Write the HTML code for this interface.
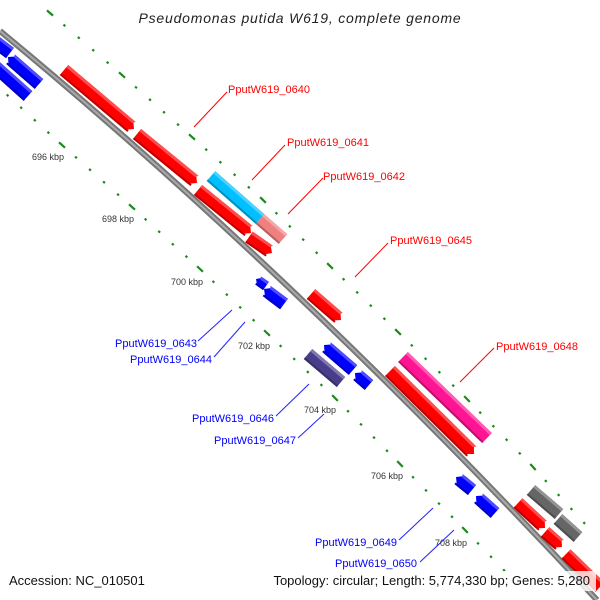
<!DOCTYPE html>
<html><head><meta charset="utf-8"><style>
html,body{margin:0;padding:0;background:#fff;width:600px;height:600px;overflow:hidden}
svg{display:block;overflow:hidden}
text{font-family:"Liberation Sans",sans-serif}
</style></head><body>
<svg id="s" width="600" height="600" viewBox="0 0 600 600" overflow="hidden" xmlns="http://www.w3.org/2000/svg">
<rect width="600" height="600" fill="#fff"/>
<g id="dots"></g>
<path d="M0,31 Q294,273.5 597,600" fill="none" stroke="#777" stroke-width="6"/>
<path d="M0,31 Q294,273.5 597,600" fill="none" stroke="#aaa" stroke-width="2"/>
<g id="genes"></g>
<g stroke-width="1" fill="none">
<line x1="194" y1="127" x2="227" y2="92" stroke="#f00"/>
<line x1="252" y1="180" x2="285" y2="145" stroke="#f00"/>
<line x1="288" y1="214" x2="323" y2="178" stroke="#f00"/>
<line x1="355" y1="277" x2="388" y2="243" stroke="#f00"/>
<line x1="460" y1="382" x2="494" y2="348" stroke="#f00"/>
<line x1="198" y1="341" x2="232" y2="310" stroke="#22f"/>
<line x1="214" y1="357" x2="245" y2="322" stroke="#22f"/>
<line x1="276" y1="416" x2="309" y2="384" stroke="#22f"/>
<line x1="298" y1="438" x2="324" y2="414" stroke="#22f"/>
<line x1="399" y1="540" x2="433" y2="508" stroke="#22f"/>
<line x1="420" y1="562" x2="454" y2="530" stroke="#22f"/>
</g>
<g font-size="11" fill="#f00">
<text x="228" y="93">PputW619_0640</text>
<text x="287" y="146">PputW619_0641</text>
<text x="323" y="180">PputW619_0642</text>
<text x="390" y="244">PputW619_0645</text>
<text x="496" y="350">PputW619_0648</text>
</g>
<g font-size="11" fill="#00f" text-anchor="end">
<text x="197" y="347">PputW619_0643</text>
<text x="212" y="363">PputW619_0644</text>
<text x="274" y="422">PputW619_0646</text>
<text x="296" y="444">PputW619_0647</text>
<text x="397" y="546">PputW619_0649</text>
<text x="417" y="567">PputW619_0650</text>
</g>
<g font-size="9" fill="#333">
<text x="32" y="160">696 kbp</text>
<text x="102" y="222">698 kbp</text>
<text x="171" y="285">700 kbp</text>
<text x="238" y="349">702 kbp</text>
<text x="304" y="413">704 kbp</text>
<text x="371" y="479">706 kbp</text>
<text x="435" y="546">708 kbp</text>
</g>
<text x="300" y="23" font-size="14" font-style="italic" text-anchor="middle" fill="#222" letter-spacing="0.8">Pseudomonas putida W619, complete genome</text>
<rect x="4" y="571" width="152" height="20" fill="#fff" opacity="0.8"/>
<rect x="256" y="571" width="340" height="20" fill="#fff" opacity="0.8"/>
<text x="9" y="585" font-size="13" fill="#111">Accession: NC_010501</text>
<text x="590" y="585" font-size="13" fill="#111" text-anchor="end">Topology: circular; Length: 5,774,330 bp; Genes: 5,280</text>
</svg>
<script>
var NS="http://www.w3.org/2000/svg";
function el(p,t,a){var e=document.createElementNS(NS,t);for(var k in a)e.setAttribute(k,a[k]);p.appendChild(e);return e;}
var G=document.getElementById('genes'),D=document.getElementById('dots');
function shade(c,f){var r=parseInt(c.substr(1,2),16),g=parseInt(c.substr(3,2),16),b=parseInt(c.substr(5,2),16);
 function m(v){return Math.max(0,Math.min(255,Math.round(f>0?v+(255-v)*f:v*(1+f))));}
 return "rgb("+m(r)+","+m(g)+","+m(b)+")";}
function gene(x1,y1,x2,y2,c,dir,w){
 w=w||13;var dx=x2-x1,dy=y2-y1,L=Math.hypot(dx,dy),ux=dx/L,uy=dy/L,nx=uy,ny=-ux,h=w/2,a=Math.min(w*0.5,L*0.5);
 var pts;
 function P(px,py,t,s){return [px+ux*t+nx*s,py+uy*t+ny*s];}
 if(dir==1){pts=[P(x1,y1,0,h),P(x1,y1,L-a,h),P(x1,y1,L,0),P(x1,y1,L-a,-h),P(x1,y1,0,-h)];}
 else if(dir==-1){pts=[P(x1,y1,0,0),P(x1,y1,a,h),P(x1,y1,L,h),P(x1,y1,L,-h),P(x1,y1,a,-h)];}
 else pts=[P(x1,y1,0,h),P(x1,y1,L,h),P(x1,y1,L,-h),P(x1,y1,0,-h)];
 el(G,'polygon',{points:pts.map(function(p){return p.join(',')}).join(' '),fill:c});
 var s=h-3,t0=dir==-1?a*0.5:0,t1=dir==1?L-a*0.5:L;
 var lp=[P(x1,y1,t0,h),P(x1,y1,t1,h),P(x1,y1,t1-(dir==1?a*0.3:0),s),P(x1,y1,t0+(dir==-1?a*0.3:0),s)];
 el(G,'polygon',{points:lp.map(function(p){return p.join(',')}).join(' '),fill:shade(c,0.3)});
 var dp=[P(x1,y1,t0,-h),P(x1,y1,t1,-h),P(x1,y1,t1,-h+2),P(x1,y1,t0,-h+2)];
 el(G,'polygon',{points:dp.map(function(p){return p.join(',')}).join(' '),fill:shade(c,-0.25)});
}
var R="#ff0000",B="#0000ff";
gene(64,70,134,129,R,1);
gene(137,134,197,183,R,1);
gene(198,190,251,233,R,1);
gene(249,237,272,253,R,1);
gene(211,176,260,219,"#00bfff",0);
gene(260,219,283,239,"#f08080",0);
gene(311,294,341,320,R,1);
gene(403,357,487,438,"#ff1493",0,14);
gene(390,371,474,454,R,1,14);
gene(531,490,559,514,"#666666",0);
gene(558,519,578,537,"#666666",0);
gene(518,503,545,528,R,1);
gene(545,532,562,547,R,1);
gene(566,554,600,587,R,0);
gene(-15,34,10,53,B,0);
gene(8,57,39,84,B,-1);
gene(-10,62,28,96,B,0);
gene(256,279,266,286,B,-1,10);
gene(264,289,284,304,B,-1);
gene(324,345,353,370,B,-1);
gene(308,354,341,382,"#483d8b",0);
gene(355,373,369,385,B,-1);
gene(456,477,472,490,B,-1);
gene(476,496,495,513,B,-1);
function track(M){
 for(var i=0;i<M.length-1;i++){
  var a=M[i],b=M[i+1];
  for(var j=0;j<5;j++){
   var t=j/5,x=a[0]+(b[0]-a[0])*t,y=a[1]+(b[1]-a[1])*t;
   if(x<2||y<2||x>598||y>598)continue;
   var dx=b[0]-a[0],dy=b[1]-a[1],L=Math.hypot(dx,dy),ux=dx/L,uy=dy/L,l=j==0?4:1.2;
   el(D,'line',{x1:x-ux*l,y1:y-uy*l,x2:x+ux*l,y2:y+uy*l,stroke:"#1a8a1a","stroke-width":2.2,"stroke-linecap":"butt"});
  }
 }
}
track([[-22,-49],[50,13],[122,75],[192,137],[263,200],[330,266],[398,332],[467,399],[533,467],[597,537]]);
track([[-6,83],[62,145],[132,207],[200,269],[267,333],[335,398],[400,464],[465,530],[530,597]]);
</script>
</body></html>
